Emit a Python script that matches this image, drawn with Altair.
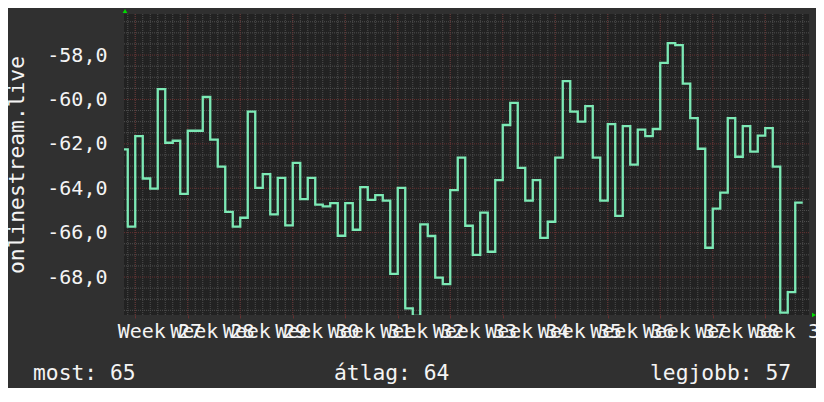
import altair as alt
import pandas as pd

# ---- data (daily values) ----
values = [-62.25, -65.73, -61.65, -63.56, -64.02, -59.53, -61.95, -61.86, -64.25, -61.41,
          -61.41, -59.89, -61.81, -63.03, -65.06, -65.73, -65.33, -60.55, -63.98, -63.36,
          -65.18, -63.53, -65.67, -62.86, -64.49, -63.53, -64.74, -64.82, -64.67, -66.14,
          -64.67, -65.87, -63.95, -64.52, -64.31, -64.56, -67.86, -63.98, -69.41, -69.75,
          -65.63, -66.15, -68.03, -68.32, -64.08, -62.62, -65.69, -67.00, -65.10, -66.86,
          -63.63, -61.15, -60.15, -63.08, -64.56, -63.63, -66.24, -65.51, -62.62, -59.17,
          -60.55, -61.00, -60.30, -62.62, -64.56, -61.11, -65.24, -61.20, -62.94, -61.36,
          -61.65, -61.33, -58.35, -57.46, -57.55, -59.29, -60.84, -62.22, -66.68, -64.92,
          -64.20, -60.84, -62.58, -61.20, -62.35, -61.63, -61.29, -63.03, -69.60, -68.68,
          -64.65]
week_numbers = list(range(27, 40))
y_major = [-68, -66, -64, -62, -60, -58]
legend_labels = ["most: 65", "átlag: 64", "legjobb: 57"]
y_title = "onlinestream.live"

# ---- layout ----
W, H = 685, 301
PX_PER_DAY = 7.5
n = len(values)
FONT = "DejaVu Sans Mono"
TXT = "#f4f4f4"
LINE = "#7ce9b5"
GRID = "#4f4f4f"
MGRID = "#663030"

day = [i - 0.5 for i in range(n)] + [n - 0.5]
line_df = pd.DataFrame({"day": day, "value": values + [values[-1]]})

week_pos = [1.5 + 7 * k for k in range(len(week_numbers))]
day_pos = [0.5 + k for k in range(n)]
y_minor = [-69.5 + 0.5 * k for k in range(27) if (-69.5 + 0.5 * k) % 2 != 0]

xs = alt.Scale(domain=[0, W / PX_PER_DAY], nice=False, zero=False)
ys = alt.Scale(domain=[-69.71, -56.15], nice=False, zero=False)

labels_js = "[" + ",".join("'Week %d'" % w for w in week_numbers) + "]"

x_axis = alt.Axis(
    values=week_pos,
    labelExpr=labels_js + "[round((datum.value - 1.5) / 7)]",
    labelAlign="left", labelOffset=-18, labelFlush=False, labelOverlap=False,
    labelBound=False,
    grid=False, domain=False, ticks=True, tickColor=MGRID, tickSize=3,
    labelPadding=3, labelFont=FONT, labelFontSize=20, labelColor=TXT,
    title=None)
y_axis = alt.Axis(
    values=y_major,
    labelExpr="'-' + replace(format(abs(datum.value), '.1f'), '.', ',')",
    grid=False, domain=False, ticks=False, labelPadding=17,
    labelFont=FONT, labelFontSize=20, labelColor=TXT,
    title=y_title, titleFont=FONT, titleFontSize=21.3, titleColor=TXT,
    titleFontWeight="normal", titleX=-101, titleY=H / 2,
    titleAlign="center", titleBaseline="alphabetic")

vgrid_minor = alt.Chart(pd.DataFrame({"d": day_pos})).mark_rule(
    color=GRID, strokeDash=[1, 1], strokeWidth=1
).encode(x=alt.X("d:Q", scale=xs, axis=x_axis))

hgrid_minor = alt.Chart(pd.DataFrame({"v": y_minor})).mark_rule(
    color=GRID, strokeDash=[1, 1], strokeWidth=1
).encode(y=alt.Y("v:Q", scale=ys, axis=y_axis))

vgrid_major = alt.Chart(pd.DataFrame({"d": week_pos})).mark_rule(
    color=MGRID, strokeDash=[1, 1], strokeWidth=1
).encode(x=alt.X("d:Q", scale=xs, axis=x_axis))

hgrid_major = alt.Chart(pd.DataFrame({"v": y_major})).mark_rule(
    color=MGRID, strokeDash=[1, 1], strokeWidth=1
).encode(y=alt.Y("v:Q", scale=ys, axis=y_axis))

line = alt.Chart(line_df).mark_line(
    interpolate="step-after", clip=True, color=LINE, strokeWidth=2.3
).encode(
    x=alt.X("day:Q", scale=xs, axis=x_axis),
    y=alt.Y("value:Q", scale=ys, axis=y_axis),
)

legend_x = [-91, 210, 526]
legend_layers = [
    alt.Chart(alt.Data(values=[{"t": t}])).mark_text(
        font=FONT, fontSize=21.3, color=TXT, align="left", baseline="alphabetic"
    ).encode(x=alt.value(lx), y=alt.value(366), text="t:N")
    for t, lx in zip(legend_labels, legend_x)
]

arrow_up = alt.Chart(alt.Data(values=[{"a": 1}])).mark_point(
    shape="triangle-up", filled=True, color="#00dd00", size=22, opacity=1
).encode(x=alt.value(1), y=alt.value(-3))
arrow_right = alt.Chart(alt.Data(values=[{"a": 1}])).mark_point(
    shape="triangle-right", filled=True, color="#00dd00", size=22, opacity=1
).encode(x=alt.value(690), y=alt.value(H))

chart = alt.layer(
    vgrid_minor, hgrid_minor, vgrid_major, hgrid_major, line,
    *legend_layers, arrow_up, arrow_right
).properties(
    width=W, height=H,
    padding={"left": 116, "top": 6, "right": 7, "bottom": 73},
    autosize=alt.AutoSizeParams(type="none"),
    background="#303030",
).configure_view(
    fill="#222222", strokeWidth=0
)

chart.save("out.html", embed_options={"renderer": "svg", "actions": False})
